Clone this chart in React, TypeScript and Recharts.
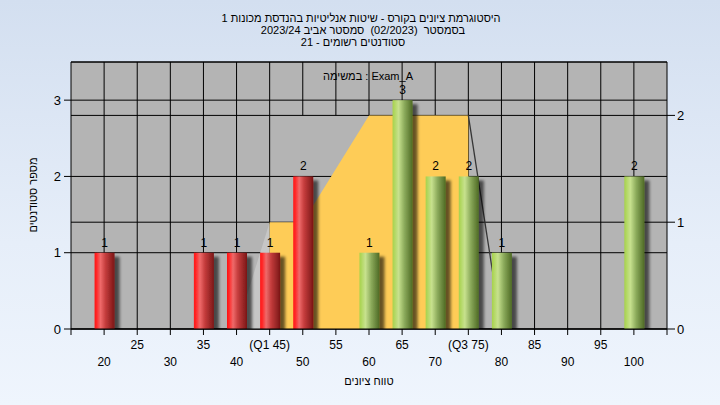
import React from 'react';
import {
  ComposedChart,
  Bar,
  Area,
  Line,
  XAxis,
  YAxis,
  CartesianGrid,
  ReferenceLine,
  LabelList,
} from 'recharts';

// ---------- data ----------
const scores = [20, 35, 40, 45, 50, 60, 65, 70, 75, 80, 100];
const counts = [1, 1, 1, 1, 2, 1, 3, 2, 2, 1, 2];

const xTicks = [15, 20, 25, 30, 35, 40, 45, 50, 55, 60, 65, 70, 75, 80, 85, 90, 95, 100, 105];
const xTickLabels = ['', '20', '25', '30', '35', '40', '(Q1 45)', '50', '55', '60', '65', '70', '(Q3 75)', '80', '85', '90', '95', '100', ''];
const gridXs = [20, 25, 30, 35, 40, 45, 50, 55, 60, 65, 70, 75, 80, 85, 90, 95, 100];

const leftTicks = [0, 1, 2, 3];
const rightTicks = [0, 1, 2];

// quartile box (right axis)
const boxX = [45, 50, 60, 75];
const boxY = [1, 1, 2, 2];
const rampX = [40, 45];
const rampY = [0, 1];
const tailX = [75, 80];
const tailY = [2, 0];

const passMark = 55;

const titleLines = [
  'היסטוגרמת ציונים בקורס - שיטות אנליטיות בהנדסת מכונות 1',
  'בסמסטר  (02/2023)  סמסטר אביב 2023/24',
  'סטודנטים רשומים - 21',
];
const legendText = 'במשימה : Exam_A';
const xLabel = 'טווח ציונים';
const yLabel = 'מספר סטודנטים';

// ---------- helpers ----------
const FONT = '"Liberation Sans", "DejaVu Sans", Arial, sans-serif';
const X_MIN = 15;
const X_MAX = 105;
const L_MAX = 3.5;
const R_MAX = 2.5;
const Q1 = boxX[0];
const Q3 = boxX[boxX.length - 1];
const BOX_TOP = Math.max(...boxY);

const lookup = (xs: number[], ys: number[], x: number) => {
  const i = xs.indexOf(x);
  return i >= 0 ? ys[i] : null;
};

const data = scores.map((s, i) => ({
  score: s,
  count: counts[i],
  box: lookup(boxX, boxY, s),
  ramp: lookup(rampX, rampY, s),
  tail: lookup(tailX, tailY, s),
}));

const XTick = (props: any) => {
  const { x, y, payload } = props;
  const i = xTicks.indexOf(payload.value);
  const upper = i % 2 === 0;
  return (
    <text
      x={x}
      y={y}
      dy={upper ? 12 : 29}
      textAnchor="middle"
      fill="#000"
      fontSize={12}
      fontFamily={FONT}
    >
      {xTickLabels[i]}
    </text>
  );
};

const BarShape = (props: any) => {
  const { x, y, width, height, payload } = props;
  if (!height || height <= 0) return null;
  const grad = payload.score < passMark ? 'url(#gRed)' : 'url(#gGreen)';
  return (
    <rect x={x} y={y} width={width} height={height} fill={grad} filter="url(#bshadow)" />
  );
};

const textBase: React.CSSProperties = {
  position: 'absolute',
  fontFamily: FONT,
  fontSize: 11,
  color: '#000',
  whiteSpace: 'pre',
  lineHeight: '12px',
  height: 12,
  transform: 'translateX(-50%)',
  pointerEvents: 'none',
};

export default function App() {
  const titleCenters = [361, 363, 353];
  const titleYs = [18, 30, 42];
  return (
    <div
      style={{
        position: 'absolute',
        left: 0,
        top: 0,
        width: 720,
        height: 405,
        overflow: 'hidden',
        background: 'linear-gradient(180deg, #d3dff0 0%, #e6eef9 60%, #eff5fd 100%)',
        fontFamily: FONT,
      }}
    >
      <ComposedChart
        width={720}
        height={405}
        data={data}
        margin={{ top: 62, right: 0, bottom: 0, left: 0 }}
      >
        <defs>
          <linearGradient id="gRed" x1="0" y1="0" x2="1" y2="0">
            <stop offset="0%" stopColor="#ff1414" />
            <stop offset="12%" stopColor="#ff2c2c" />
            <stop offset="30%" stopColor="#ef6a6a" />
            <stop offset="55%" stopColor="#c43c3c" />
            <stop offset="100%" stopColor="#7a1616" />
          </linearGradient>
          <linearGradient id="gGreen" x1="0" y1="0" x2="1" y2="0">
            <stop offset="0%" stopColor="#a6d24a" />
            <stop offset="30%" stopColor="#c7e18e" />
            <stop offset="60%" stopColor="#8aa95a" />
            <stop offset="100%" stopColor="#4e6a24" />
          </linearGradient>
          <filter id="bshadow" filterUnits="userSpaceOnUse" x="0" y="0" width="720" height="405">
            <feGaussianBlur in="SourceAlpha" stdDeviation="1.8" />
            <feOffset dx="5" dy="4" result="off" />
            <feComponentTransfer>
              <feFuncA type="linear" slope="0.6" />
            </feComponentTransfer>
            <feMerge>
              <feMergeNode />
              <feMergeNode in="SourceGraphic" />
            </feMerge>
          </filter>
        </defs>

        <CartesianGrid
          yAxisId="left"
          vertical={false}
          stroke="#000"
          fill="#b4b4b4"
          fillOpacity={1}
        />
        <CartesianGrid yAxisId="right" vertical={false} stroke="#000" />

        <XAxis
          dataKey="score"
          type="number"
          domain={[X_MIN, X_MAX]}
          ticks={xTicks}
          interval={0}
          height={76}
          tickSize={6}
          tickMargin={2}
          tick={<XTick />}
          tickLine={{ stroke: '#000' }}
          axisLine={{ stroke: '#000' }}
          allowDataOverflow
        />
        <YAxis
          yAxisId="left"
          domain={[0, L_MAX]}
          ticks={leftTicks}
          interval={0}
          width={71}
          tickSize={7}
          tickMargin={3}
          tick={{ fill: '#000', fontSize: 13, fontFamily: FONT }}
          tickLine={{ stroke: '#000' }}
          axisLine={{ stroke: '#000' }}
          allowDataOverflow
        />
        <YAxis
          yAxisId="right"
          orientation="right"
          domain={[0, R_MAX]}
          ticks={rightTicks}
          interval={0}
          width={53}
          tickSize={8}
          tickMargin={2}
          tick={{ fill: '#000', fontSize: 13, fontFamily: FONT }}
          tickLine={{ stroke: '#000' }}
          axisLine={{ stroke: '#000' }}
          allowDataOverflow
        />

        {gridXs.map((gx) => (
          <ReferenceLine
            key={'v' + gx}
            yAxisId="right"
            segment={[
              { x: gx, y: gx > Q1 && gx < Q3 ? BOX_TOP : 0 },
              { x: gx, y: R_MAX },
            ]}
            stroke="#000"
            strokeWidth={1}
            ifOverflow="visible"
            zIndex={-60}
          />
        ))}

        <Area
          yAxisId="right"
          dataKey="ramp"
          type="linear"
          stroke="none"
          fill="#c6c6c6"
          fillOpacity={1}
          connectNulls
          dot={false}
          activeDot={false}
          isAnimationActive={false}
        />
        <Area
          yAxisId="right"
          dataKey="box"
          type="linear"
          stroke="none"
          fill="#fecc57"
          fillOpacity={1}
          connectNulls
          dot={false}
          activeDot={false}
          isAnimationActive={false}
        />
        <Line
          yAxisId="right"
          dataKey="tail"
          type="linear"
          stroke="#363636"
          strokeWidth={1.3}
          connectNulls
          dot={false}
          activeDot={false}
          isAnimationActive={false}
          zIndex={150}
        />
        <Bar
          yAxisId="left"
          dataKey="count"
          barSize={20}
          shape={<BarShape />}
          isAnimationActive={false}
        >
          <LabelList
            dataKey="count"
            position="top"
            offset={6}
            fill="#000"
            fontSize={12}
            fontFamily={FONT}
          />
        </Bar>
      </ComposedChart>

      {titleLines.map((t, i) => (
        <div
          key={i}
          dir="rtl"
          style={{ ...textBase, left: titleCenters[i], top: titleYs[i] - 6 }}
        >
          {t}
        </div>
      ))}
      <div dir="ltr" style={{ ...textBase, left: 368, top: 76 - 6 }}>{legendText}</div>
      <div dir="rtl" style={{ ...textBase, left: 369, top: 381 - 6 }}>{xLabel}</div>
      <div
        dir="rtl"
        style={{
          ...textBase,
          left: 33,
          top: 195 - 6,
          transform: 'translateX(-50%) rotate(-90deg)',
        }}
      >
        {yLabel}
      </div>
    </div>
  );
}
